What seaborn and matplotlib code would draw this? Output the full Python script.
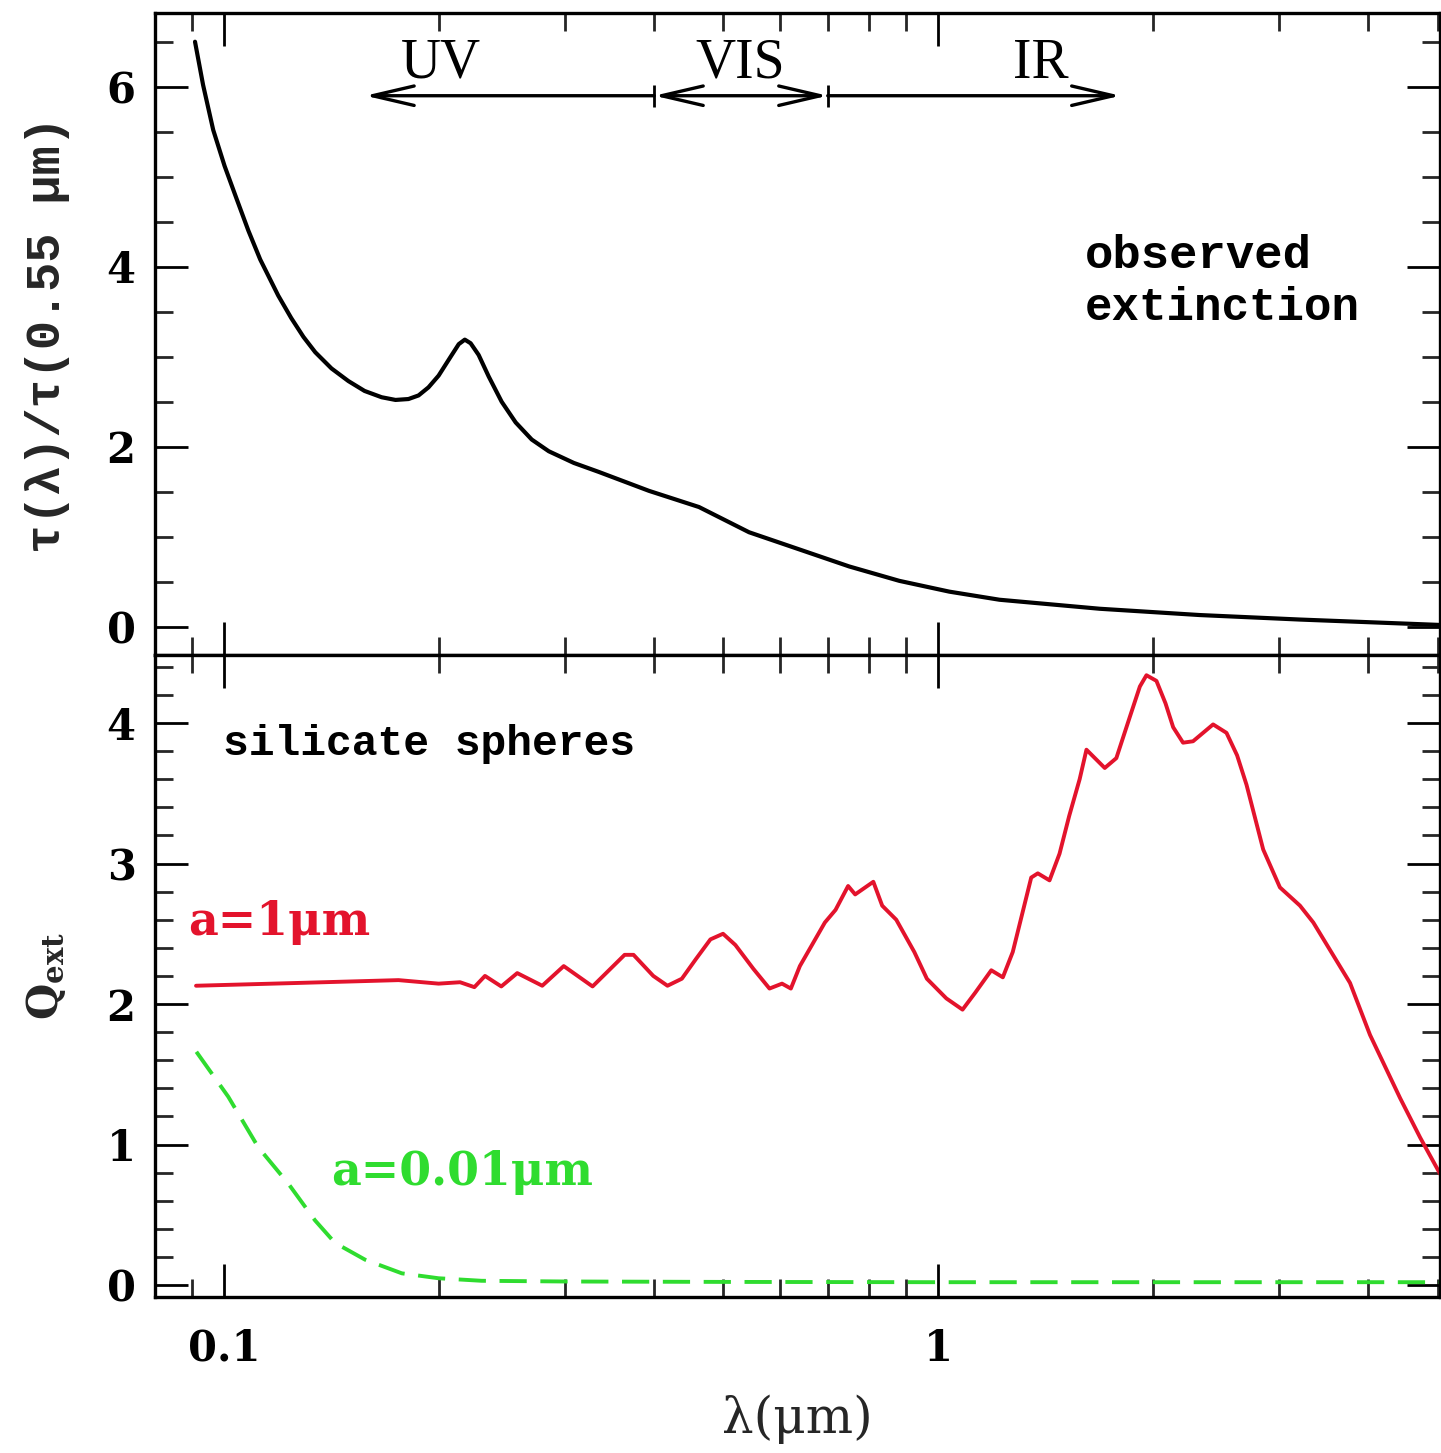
import numpy as np
import pandas as pd
import matplotlib
matplotlib.use("Agg")
import matplotlib.pyplot as plt
import matplotlib.ticker as mticker
import seaborn as sns

# ---------------- data ----------------
obs_wavelength = [0.0910, 0.0934, 0.0965, 0.1001, 0.1040, 0.1081, 0.1123, 0.1190,
                  0.1241, 0.1291, 0.1341, 0.1413, 0.1492, 0.1572, 0.1661, 0.1737,
                  0.1811, 0.1871, 0.1932, 0.1996, 0.2075, 0.2130, 0.2172, 0.2213,
                  0.2271, 0.2346, 0.2446, 0.2559, 0.2695, 0.2847, 0.3087, 0.3346,
                  0.3933, 0.4622, 0.5431, 0.6383, 0.7501, 0.8817, 1.036, 1.218,
                  1.682, 2.323, 3.209, 5.04]
obs_extinction = [6.50, 6.02, 5.52, 5.12, 4.76, 4.40, 4.08, 3.68,
                  3.43, 3.22, 3.05, 2.87, 2.73, 2.62, 2.55, 2.52,
                  2.53, 2.57, 2.66, 2.79, 3.00, 3.14, 3.19, 3.15,
                  3.02, 2.78, 2.50, 2.27, 2.08, 1.95, 1.82, 1.72,
                  1.51, 1.33, 1.05, 0.86, 0.67, 0.51, 0.39, 0.30,
                  0.20, 0.13, 0.08, 0.02]

big_wavelength = [0.0913, 0.1270, 0.1754, 0.1996, 0.2139, 0.2240, 0.2318, 0.2443,
                  0.2572, 0.2788, 0.2988, 0.3279, 0.3636, 0.3742, 0.3988, 0.4175,
                  0.4373, 0.4576, 0.4795, 0.4994, 0.5197, 0.5508, 0.5801, 0.6040,
                  0.6215, 0.6398, 0.6935, 0.7178, 0.7475, 0.7647, 0.8108, 0.8343,
                  0.8730, 0.9254, 0.9636, 1.026, 1.081, 1.126, 1.186, 1.231,
                  1.271, 1.349, 1.378, 1.431, 1.478, 1.525, 1.577, 1.612,
                  1.710, 1.775, 1.853, 1.915, 1.956, 2.020, 2.080, 2.132,
                  2.201, 2.273, 2.425, 2.532, 2.620, 2.701, 2.850, 3.008,
                  3.209, 3.350, 3.771, 4.022, 4.432, 4.727, 5.043]
big_qext = [2.13, 2.15, 2.17, 2.145, 2.155, 2.12, 2.20, 2.125,
            2.22, 2.13, 2.27, 2.125, 2.35, 2.35, 2.20, 2.13,
            2.18, 2.32, 2.46, 2.50, 2.42, 2.25, 2.11, 2.145,
            2.11, 2.27, 2.58, 2.67, 2.84, 2.78, 2.87, 2.70,
            2.60, 2.37, 2.18, 2.04, 1.96, 2.08, 2.24, 2.19,
            2.37, 2.90, 2.93, 2.88, 3.07, 3.34, 3.60, 3.81,
            3.68, 3.75, 4.04, 4.26, 4.34, 4.30, 4.14, 3.97,
            3.86, 3.87, 3.99, 3.93, 3.77, 3.56, 3.10, 2.83,
            2.70, 2.58, 2.15, 1.78, 1.33, 1.05, 0.79]

small_wavelength = [0.0914, 0.1013, 0.1116, 0.1230, 0.1340, 0.1429, 0.1575, 0.1773,
                    0.1996, 0.2293, 0.30, 0.50, 1.0, 2.0, 5.04]
small_qext = [1.66, 1.34, 0.98, 0.72, 0.46, 0.30, 0.18, 0.083,
              0.048, 0.030, 0.025, 0.022, 0.02, 0.02, 0.02]

x_tick_values = [0.1, 1]
x_tick_labels = ["0.1", "1"]
top_y_ticks = [0, 2, 4, 6]
bottom_y_ticks = [0, 1, 2, 3, 4]

band_labels = ["UV", "VIS", "IR"]
band_label_x = [0.2014, 0.5276, 1.39]
band_edges = [0.1575, 0.4, 0.7, 1.80]

# ---------------- style ----------------
sns.set_style("ticks")
plt.rcParams["font.family"] = ["DejaVu Serif", "DejaVu Sans"]
plt.rcParams["mathtext.fontset"] = "dejavuserif"

RED = "#e3132c"
GREEN = "#2fdc2f"
BLACK = "#000000"
LW_FRAME = 2.4

fig = plt.figure(figsize=(14.41, 14.53), dpi=100)
ax_top = fig.add_axes([0.1076, 0.5492, 0.8917, 0.4416])
ax_bot = fig.add_axes([0.1076, 0.1074, 0.8917, 0.4418], sharex=ax_top)

df_obs = pd.DataFrame({"wavelength": obs_wavelength, "tau": obs_extinction})
df_big = pd.DataFrame({"wavelength": big_wavelength, "Q": big_qext})
df_small = pd.DataFrame({"wavelength": small_wavelength, "Q": small_qext})

sns.lineplot(data=df_obs, x="wavelength", y="tau", ax=ax_top, color=BLACK,
             linewidth=3.0, estimator=None, sort=False)
sns.lineplot(data=df_big, x="wavelength", y="Q", ax=ax_bot, color=RED,
             linewidth=2.8, estimator=None, sort=False)
sns.lineplot(data=df_small, x="wavelength", y="Q", ax=ax_bot, color=GREEN,
             linewidth=2.8, estimator=None, sort=False)
ax_bot.lines[-1].set_dashes([7, 3.5])
for ln in ax_top.lines + ax_bot.lines:
    ln.set_solid_joinstyle("round")
    ln.set_dash_joinstyle("round")

for ax in (ax_top, ax_bot):
    ax.set_xscale("log")
    ax.set_xlim(0.080, 5.04)
    for sp in ax.spines.values():
        sp.set_linewidth(LW_FRAME)
        sp.set_color(BLACK)
        sp.set_visible(True)
    ax.tick_params(which="major", direction="in", length=24, width=2.0,
                   top=True, right=True, labelsize=30, colors=BLACK)
    ax.tick_params(which="minor", direction="in", length=13, width=2.0,
                   top=True, right=True)
    ax.xaxis.set_major_locator(mticker.FixedLocator(x_tick_values))
    ax.xaxis.set_minor_locator(mticker.LogLocator(base=10, subs=np.arange(2, 10), numticks=20))
    ax.xaxis.set_minor_formatter(mticker.NullFormatter())
    ax.set_xlabel("")
    ax.set_ylabel("")

ax_top.set_ylim(-0.314, 6.815)
ax_top.yaxis.set_major_locator(mticker.FixedLocator(top_y_ticks))
ax_top.yaxis.set_minor_locator(mticker.MultipleLocator(0.5))
ax_top.tick_params(axis="x", labelbottom=False)

ax_bot.set_ylim(-0.085, 4.484)
ax_bot.yaxis.set_major_locator(mticker.FixedLocator(bottom_y_ticks))
ax_bot.yaxis.set_minor_locator(mticker.MultipleLocator(0.2))
ax_bot.xaxis.set_major_formatter(mticker.FixedFormatter(x_tick_labels))

ax_top.tick_params(axis="y", pad=14)
ax_bot.tick_params(axis="y", pad=14)
ax_bot.tick_params(axis="x", pad=22)
for ax in (ax_top, ax_bot):
    for lab in ax.get_yticklabels() + ax.get_xticklabels():
        lab.set_fontweight("bold")

# axis labels
ax_top.set_ylabel("τ(λ)/τ(0.55 μm)", fontsize=35, family="Liberation Mono",
                  fontweight="bold")
ax_top.yaxis.set_label_coords(-0.066, 0.5)
ax_bot.set_ylabel(r"Q$_{\mathbf{ext}}$", fontsize=30, fontweight="bold")
ax_bot.yaxis.set_label_coords(-0.068, 0.5)
ax_bot.set_xlabel("λ(μm)", fontsize=36)
ax_bot.xaxis.set_label_coords(0.5, -0.152)

# band arrows (UV / VIS / IR)
arrow_y = 5.90
head = dict(arrowstyle="->,head_length=1.5,head_width=0.35", lw=2.4, color=BLACK,
            shrinkA=0, shrinkB=0, mutation_scale=20)
ax_top.annotate("", xy=(band_edges[0], arrow_y), xytext=(band_edges[1], arrow_y),
                arrowprops=head)
ax_top.annotate("", xy=(band_edges[1], arrow_y), xytext=(band_edges[2], arrow_y),
                arrowprops=dict(head, arrowstyle="<->,head_length=1.5,head_width=0.35"))
ax_top.annotate("", xy=(band_edges[3], arrow_y), xytext=(band_edges[2], arrow_y),
                arrowprops=head)
ax_top.vlines(band_edges[1:3], arrow_y - 0.12, arrow_y + 0.12, color=BLACK, lw=2.0)
for lab, xv in zip(band_labels, band_label_x):
    ax_top.text(xv, 6.10, lab, ha="center", va="baseline", fontsize=40,
                family="Liberation Serif", color=BLACK)

# annotations
ax_top.text(1.603, 3.99, "observed", ha="left", va="baseline", fontsize=34,
            family="Liberation Mono", fontweight="bold", color=BLACK)
ax_top.text(1.603, 3.41, "extinction", ha="left", va="baseline", fontsize=33,
            family="Liberation Mono", fontweight="bold", color=BLACK)
ax_bot.text(0.0997, 3.77, "silicate spheres", ha="left", va="baseline", fontsize=31,
            family="Liberation Mono", fontweight="bold", color=BLACK)
ax_bot.text(0.0890, 2.49, "a=1μm", ha="left", va="baseline", fontsize=33,
            family="DejaVu Serif", fontweight="bold", color=RED)
ax_bot.text(0.1413, 0.71, "a=0.01μm", ha="left", va="baseline", fontsize=33,
            family="DejaVu Serif", fontweight="bold", color=GREEN)

fig.savefig("out.png", dpi=100, facecolor="white")
